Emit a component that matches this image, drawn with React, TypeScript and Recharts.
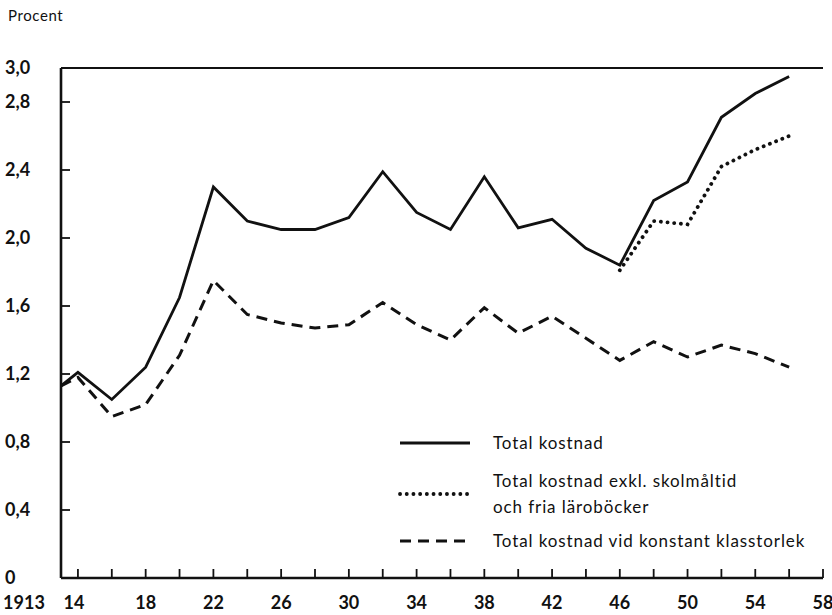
import React from "react";
import { Legend, Line, LineChart, ReferenceLine, XAxis, YAxis } from "recharts";

// years sampled every second year from 1914, plus the 1913 start
const years = [
  1913, 1914, 1916, 1918, 1920, 1922, 1924, 1926, 1928, 1930, 1932, 1934,
  1936, 1938, 1940, 1942, 1944, 1946, 1948, 1950, 1952, 1954, 1956,
];

const totalCost = [
  1.13, 1.21, 1.05, 1.24, 1.65, 2.3, 2.1, 2.05, 2.05, 2.12, 2.39, 2.15, 2.05,
  2.36, 2.06, 2.11, 1.94, 1.84, 2.22, 2.33, 2.71, 2.85, 2.95,
];

const costExclMeals = [
  null, null, null, null, null, null, null, null, null, null, null, null,
  null, null, null, null, null, 1.81, 2.1, 2.08, 2.42, 2.52, 2.6,
];

const costConstantClass = [
  1.13, 1.18, 0.95, 1.02, 1.31, 1.75, 1.55, 1.5, 1.47, 1.49, 1.62, 1.49, 1.4,
  1.59, 1.44, 1.54, 1.41, 1.28, 1.39, 1.3, 1.37, 1.32, 1.24,
];

const xTicks = [
  1913, 1914, 1916, 1918, 1920, 1922, 1924, 1926, 1928, 1930, 1932, 1934,
  1936, 1938, 1940, 1942, 1944, 1946, 1948, 1950, 1952, 1954, 1956, 1958,
];
const xLabels: Record<number, string> = {
  1913: "1913",
  1914: "14",
  1918: "18",
  1922: "22",
  1926: "26",
  1930: "30",
  1934: "34",
  1938: "38",
  1942: "42",
  1946: "46",
  1950: "50",
  1954: "54",
  1958: "58",
};
const yTicks = [0, 0.4, 0.8, 1.2, 1.6, 2.0, 2.4, 2.8, 3.0];

const data = years.map((year, i) => ({
  year,
  total: totalCost[i],
  excl: costExclMeals[i],
  constant: costConstantClass[i],
}));

const FONT = "Lato, 'DejaVu Sans', sans-serif";

const series = [
  {
    key: "total",
    label: ["Total kostnad"],
    dash: undefined as string | undefined,
    width: 2.8,
    cap: "butt" as const,
  },
  {
    key: "excl",
    label: ["Total kostnad exkl. skolmåltid", "och fria läroböcker"],
    dash: "0.1 6.6",
    width: 3.8,
    cap: "round" as const,
  },
  {
    key: "constant",
    label: ["Total kostnad vid konstant klasstorlek"],
    dash: "11 7",
    width: 3,
    cap: "butt" as const,
  },
];

const XTick = (props: any) => {
  const { x, y, payload } = props;
  const text = xLabels[payload.value];
  if (!text) return null;
  const shift = payload.value === 1913 ? -37 : payload.value === 1914 ? -4 : 0;
  return (
    <text
      x={x + shift}
      y={y}
      dy="0.71em"
      textAnchor="middle"
      fontFamily={FONT}
      fontWeight={700}
      fontSize={18}
      fill="#111"
    >
      {text}
    </text>
  );
};

const YTick = (props: any) => {
  const { x, y, payload } = props;
  const v = payload.value as number;
  const text = v === 0 ? "0" : v.toFixed(1).replace(".", ",");
  return (
    <text
      x={x}
      y={y}
      dy="0.35em"
      textAnchor="start"
      fontFamily={FONT}
      fontWeight={700}
      fontSize={18}
      fill="#111"
    >
      {text}
    </text>
  );
};

const LegendBox = () => (
  <div style={{ fontFamily: FONT, fontSize: 17, color: "#111", letterSpacing: 0.9 }}>
    {series.map((s, i) => (
      <div
        key={s.key}
        style={{
          display: "flex",
          alignItems: "center",
          marginTop: i === 0 ? 0 : i === 1 ? 12 : 8,
        }}
      >
        <svg width={74} height={10} style={{ marginRight: 21, flex: "none" }}>
          <line
            x1={2}
            x2={72}
            y1={5}
            y2={5}
            stroke="#111"
            strokeWidth={s.width}
            strokeDasharray={s.dash}
            strokeLinecap={s.cap}
          />
        </svg>
        <div style={{ lineHeight: "26px" }}>
          {s.label.map((t) => (
            <div key={t}>{t}</div>
          ))}
        </div>
      </div>
    ))}
  </div>
);

export default function App() {
  return (
    <div
      style={{
        position: "absolute",
        left: 0,
        top: 0,
        width: 832,
        height: 615,
        background: "#fff",
      }}
    >
      <div
        style={{
          position: "absolute",
          left: 8,
          top: 6,
          fontFamily: FONT,
          fontSize: 15,
          letterSpacing: 0.6,
          color: "#111",
        }}
      >
        Procent
      </div>
      <LineChart
        width={832}
        height={615}
        data={data}
        margin={{ top: 68, right: 9, bottom: 0, left: 0 }}
      >
        <XAxis
          dataKey="year"
          type="number"
          domain={[1913, 1958]}
          ticks={xTicks}
          interval={0}
          height={37}
          tickSize={-9}
          tickMargin={27}
          tick={<XTick />}
          axisLine={{ stroke: "#111", strokeWidth: 2.6 }}
          tickLine={{ stroke: "#111", strokeWidth: 1.8 }}
        />
        <YAxis
          type="number"
          domain={[0, 3]}
          ticks={yTicks}
          interval={0}
          width={61}
          tickSize={-9}
          tickMargin={65}
          tick={<YTick />}
          axisLine={{ stroke: "#111", strokeWidth: 2.6 }}
          tickLine={{ stroke: "#111", strokeWidth: 1.8 }}
        />
        <YAxis
          yAxisId="right"
          orientation="right"
          domain={[0, 3]}
          width={0}
          tick={false}
          tickLine={false}
          axisLine={{ stroke: "#111", strokeWidth: 2 }}
        />
        <ReferenceLine y={3} stroke="#111" strokeWidth={2} />
        <Legend
          layout="horizontal"
          verticalAlign="middle"
          align="center"
          content={<LegendBox />}
          wrapperStyle={{ left: 398, top: 430, width: 430 }}
        />
        {[...series].reverse().map((s) => (
          <Line
            key={s.key}
            dataKey={s.key}
            type="linear"
            stroke="#111"
            strokeWidth={s.width}
            strokeDasharray={s.dash}
            strokeLinecap={s.cap}
            strokeLinejoin="miter"
            dot={false}
            activeDot={false}
            connectNulls={false}
            isAnimationActive={false}
          />
        ))}
      </LineChart>
    </div>
  );
}
